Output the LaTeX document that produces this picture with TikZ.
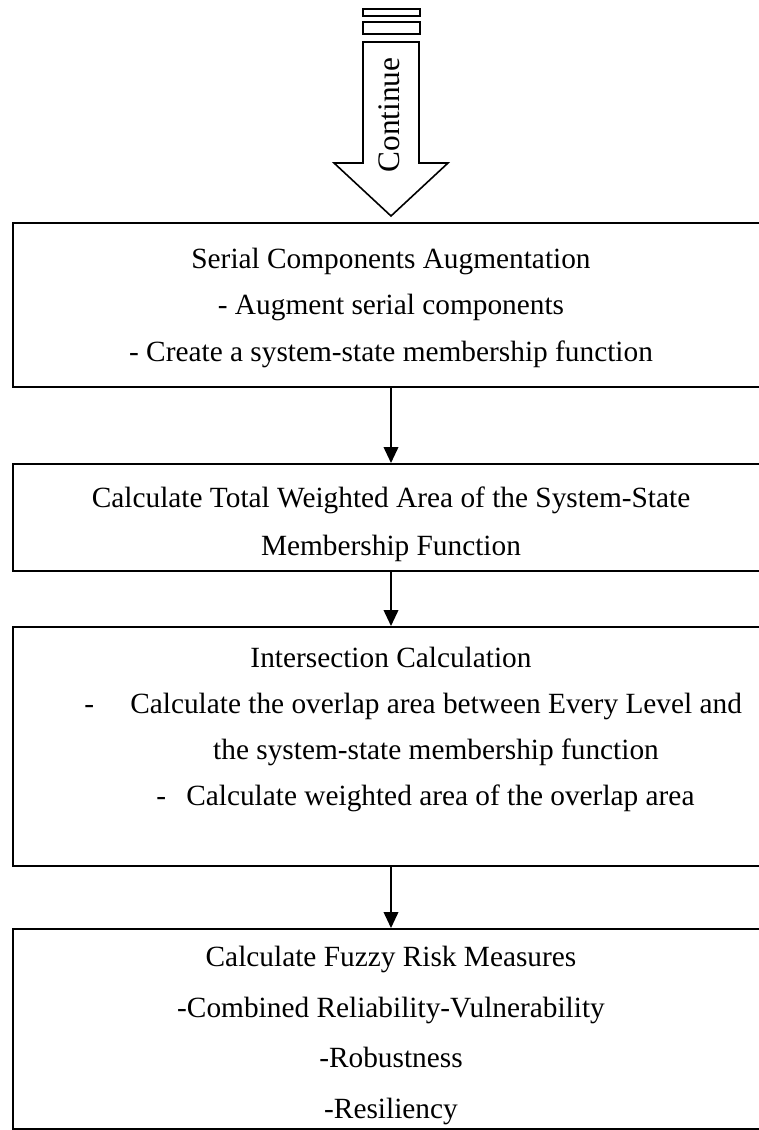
\documentclass[tikz,border=0pt]{standalone}
\usepackage{fontspec}
\setmainfont{Liberation Serif}
\usetikzlibrary{arrows.meta}
\begin{document}
\begin{tikzpicture}[x=0.75pt,y=-0.75pt,
  box/.style={draw=black, line width=1.5pt, rectangle, inner sep=0pt},
  txt/.style={font=\fontsize{22}{26}\selectfont, inner sep=0pt, anchor=base},
  txtl/.style={font=\fontsize{22}{26}\selectfont, inner sep=0pt, anchor=base west},
  flow/.style={line width=1.3pt, -{Triangle[length=12pt,width=11pt]}},
  blk/.style={draw=black, line width=1.2pt, fill=white}]
\useasboundingbox (0,0) rectangle (758,1130);
% Continue block arrow
\draw[blk] (363,9) rectangle (420,16);
\draw[blk] (363,22) rectangle (420,34);
\draw[blk] (363,42) -- (419,42) -- (419,163) -- (448,163) -- (391,216) -- (334,163) -- (363,163) -- cycle;
\node[rotate=90, font=\fontsize{23.5}{28}\selectfont, inner sep=0pt, anchor=base] (cont) at (399.5,115) {Continue};
% Boxes
\node[box, minimum width=757*0.75pt, minimum height=164*0.75pt] (b1) at (391,305) {};
\node[box, minimum width=757*0.75pt, minimum height=107*0.75pt] (b2) at (391,517.5) {};
\node[box, minimum width=757*0.75pt, minimum height=239*0.75pt] (b3) at (391,746.5) {};
\node[box, minimum width=757*0.75pt, minimum height=200*0.75pt] (b4) at (391,1029) {};
% Box 1 text
\node[txt] (t11) at (391,269) {Serial Components Augmentation};
\node[txt] (t12) at (391,315) {- Augment serial components};
\node[txt] (t13) at (391,361) {- Create a system-state membership function};
% Box 2 text
\node[txt] (t21) at (391,507) {Calculate Total Weighted Area of the System-State};
\node[txt] (t22) at (391,555) {Membership Function};
% Box 3 text
\node[txt] (t31) at (391,667) {Intersection Calculation};
\node[txtl] (d32) at (84,713) {-};
\node[txtl] (t32) at (130,713) {Calculate the overlap area between Every Level and};
\node[txt] (t33) at (436,759) {the system-state membership function};
\node[txtl] (d34) at (156,805) {-};
\node[txtl] (t34) at (186,805) {Calculate weighted area of the overlap area};
% Box 4 text
\node[txt] (t41) at (391,966) {Calculate Fuzzy Risk Measures};
\node[txt] (t42) at (391,1017) {-Combined Reliability-Vulnerability};
\node[txt] (t43) at (391,1067) {-Robustness};
\node[txt] (t44) at (391,1118) {-Resiliency};
% Connectors
\draw[flow] (b1.south) -- (b2.north);
\draw[flow] (b2.south) -- (b3.north);
\draw[flow] (b3.south) -- (b4.north);
\end{tikzpicture}
\end{document}
